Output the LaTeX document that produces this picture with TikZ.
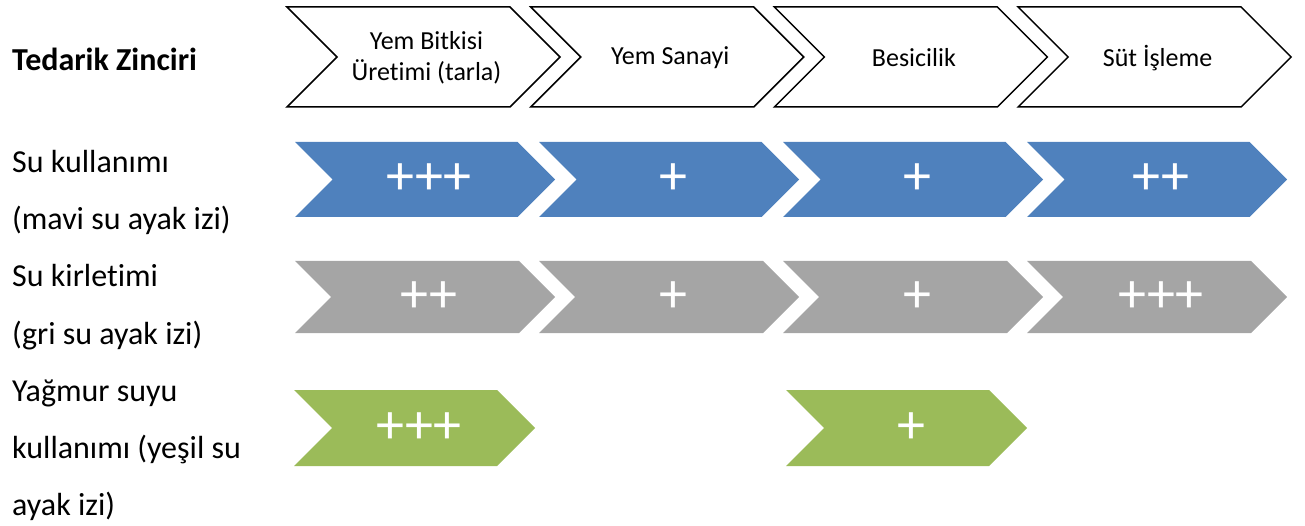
\documentclass[tikz,border=0pt]{standalone}
\usepackage{fontspec}
\setmainfont{Carlito}[Ligatures=NoCommon]
\definecolor{mavi}{HTML}{4F81BD}
\definecolor{gri}{HTML}{A5A5A5}
\definecolor{yesil}{HTML}{9BBB59}
\newcommand{\okyol}[4]{(#1, #2) -- ++(#3-#4/2, 0) -- ++(#4/2, #4/2) -- ++(-#4/2, #4/2) -- ++(-#3+#4/2, 0) -- ++(#4/2, -#4/2) -- cycle}
\begin{document}
\begin{tikzpicture}[x=1pt, y=-1pt,
    etiket/.style={anchor=base west, inner sep=0, font=\fontsize{32}{38}\selectfont},
    baslik/.style={align=center, inner sep=0, font=\fontsize{26}{31}\selectfont},
    arti/.style={inner sep=0, text=white, font=\fontsize{56}{60}\selectfont}]
    \useasboundingbox (0, 0) rectangle (1305, 526);
    % tedarik zinciri
    \foreach \i/\ad/\metin in {0/bitki/{Yem Bitkisi\\Üretimi (tarla)}, 1/sanayi/{Yem Sanayi}, 2/besi/{Besicilik}, 3/sut/{Süt İşleme}} {
        \draw[line width=1.5pt, line join=miter] \okyol{287 + 243.7*\i}{7}{273}{100};
        \node[baslik] (ust-\ad) at (287 + 243.7*\i + 139.5, 58) {\metin};
    }
    % mavi
    \foreach \i/\ad/\metin in {0/bitki/+++, 1/sanayi/+, 2/besi/+, 3/sut/++} {
        \fill[mavi] \okyol{295 + 244*\i}{142}{260}{75};
        \node[arti] (mavi-\ad) at (295 + 244*\i + 134, 179.5) {\metin};
    }
    % gri
    \foreach \i/\ad/\metin in {0/bitki/++, 1/sanayi/+, 2/besi/+, 3/sut/+++} {
        \fill[gri] \okyol{295 + 244*\i}{261}{260}{72};
        \node[arti] (gri-\ad) at (295 + 244*\i + 134, 297) {\metin};
    }
    % yesil
    \foreach \x/\ad/\metin in {294/bitki/+++, 786/besi/+} {
        \fill[yesil] \okyol{\x}{390}{241}{76};
        \node[arti] (yesil-\ad) at (\x + 125, 428) {\metin};
    }
    % etiketler
    \node[etiket, font=\fontsize{32}{38}\selectfont\bfseries] (zincir) at (12, 71) {Tedarik Zinciri};
    \foreach \k/\metin in {0/Su kullanımı, 1/(mavi su ayak izi), 2/Su kirletimi, 3/(gri su ayak izi), 4/Yağmur suyu, 5/kullanımı (yeşil su, 6/ayak izi)} {
        \node[etiket] (satir-\k) at (12, 173 + 57*\k) {\metin};
    }
\end{tikzpicture}
\end{document}
